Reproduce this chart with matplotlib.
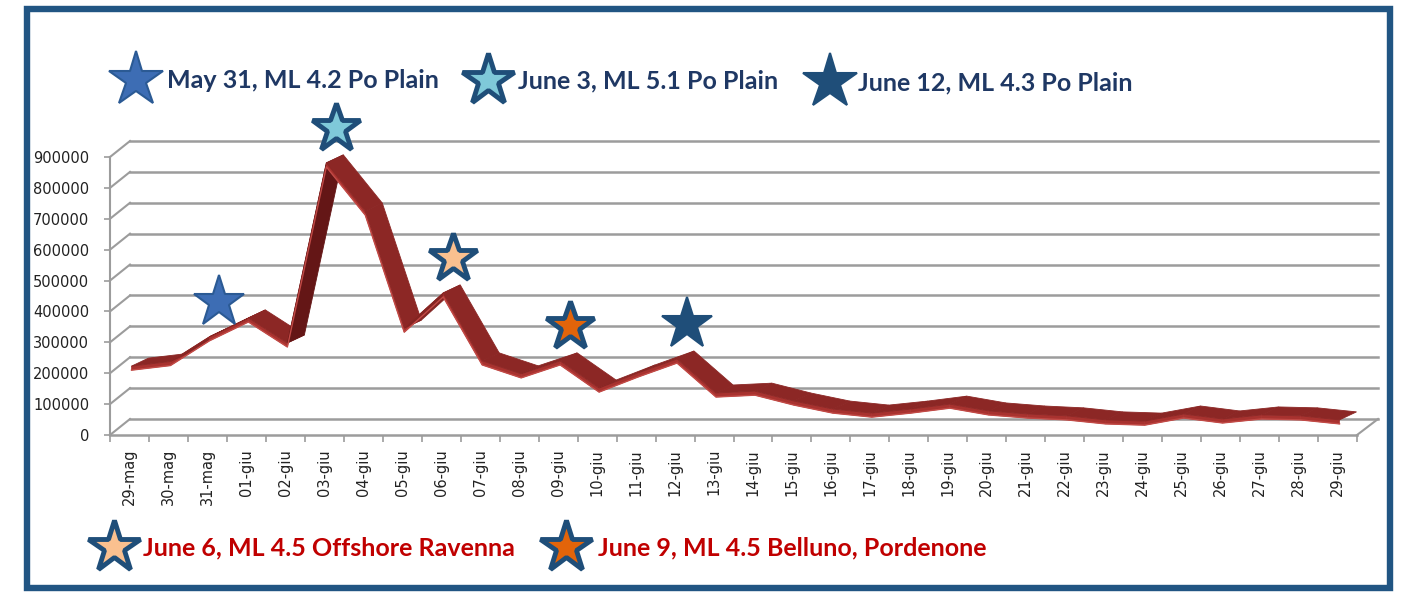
import matplotlib
matplotlib.use("Agg")
import matplotlib.pyplot as plt
import matplotlib.transforms as mtransforms
from matplotlib.patches import Polygon, Rectangle
import numpy as np

# daily values, 29 May - 29 June
days = ["29-mag", "30-mag", "31-mag"] + ["%02d-giu" % d for d in range(1, 30)]
values = [210000, 225000, 305000, 366000, 285000, 868000, 712000, 333000,
          447000, 227000, 185000, 227000, 139000, 188000, 233000, 123000,
          129000, 97000, 71000, 58000, 71000, 87000, 65000, 55000,
          49000, 36000, 32000, 55000, 39000, 52000, 49000, 36000]

# earthquakes: day index, label, star fill, star edge
quake_idx = [2, 5, 8, 11, 14]
quake_text = ["May 31, ML 4.2 Po Plain", "June 3, ML 5.1 Po Plain",
              "June 6, ML 4.5 Offshore Ravenna", "June 9, ML 4.5 Belluno, Pordenone",
              "June 12, ML 4.3 Po Plain"]
star_fill = ["#3d6db4", "#7fc9d9", "#fac08f", "#e2640a", "#1f4e79"]
star_edge = ["#2b5a94", "#1f4e79", "#1f4e79", "#1f4e79", "#1f4e79"]
star_ew = [1.5, 3.5, 3.5, 3.5, 1.5]

W, H = 1404, 592
fig = plt.figure(figsize=(W / 100, H / 100), dpi=100)
ax = fig.add_axes([110 / W, (H - 435) / H, 1247 / W, 278 / H])
n = len(days)
ax.set_xlim(-0.5, n - 0.5)
ax.set_ylim(0, 900000)
ax.patch.set_alpha(0)
for s in ax.spines.values():
    s.set_visible(False)

XPX = n / 1247.0
YPX = 900000 / 278.0
grid_c = "#9c9c9c"

# back wall grid + depth connectors
yt = list(range(0, 900001, 100000))
for v in yt:
    ax.plot([-0.5 + 20 * XPX, n - 0.5 + 21 * XPX], [v + 16 * YPX] * 2,
            color=grid_c, lw=1.8, clip_on=False, zorder=1)
    ax.plot([-0.5, -0.5 + 20 * XPX], [v, v + 16 * YPX],
            color=grid_c, lw=1.5, clip_on=False, zorder=1)
ax.plot([-0.5, -0.5], [0, 900000], color=grid_c, lw=1.5, clip_on=False)
ax.plot([-0.5, n - 0.5], [0, 0], color=grid_c, lw=1.8, clip_on=False)
ax.plot([n - 0.5, n - 0.5 + 21 * XPX], [0, 16 * YPX], color=grid_c, lw=1.5, clip_on=False)

ax.set_yticks(yt)
ax.set_yticklabels([str(v) for v in yt])
ax.set_xticks(range(n))
ax.set_xticklabels(days, rotation=90)
ax.set_xticks(np.arange(-0.5, n, 1), minor=True)
ax.tick_params(axis="y", length=4, color=grid_c, width=1.2, pad=11,
               labelsize=10.5, labelcolor="#222222")
ax.tick_params(axis="x", which="major", length=0, pad=10,
               labelsize=10.5, labelcolor="#222222")
ax.tick_params(axis="x", which="minor", length=5, color=grid_c, width=1.2)

# 3D-looking ribbon: front face + top face going back in depth
x = np.arange(n, dtype=float) + 2 * XPX
y = np.array(values, dtype=float)
t = 4 * YPX
dx, dy = 17 * XPX, 8 * YPX
base = np.array([0x8c, 0x27, 0x25]) / 255
dark = np.array([0x58, 0x11, 0x11]) / 255
for i in range(n - 1):
    rise = (y[i + 1] - y[i]) / YPX / 39.0
    k = np.clip(rise / 6.0, 0, 1)
    col = base * (1 - k) + dark * k
    front = [(x[i], y[i]), (x[i + 1], y[i + 1]),
             (x[i + 1], y[i + 1] + t), (x[i], y[i] + t)]
    top = [(x[i], y[i] + t), (x[i + 1], y[i + 1] + t),
           (x[i + 1] + dx, y[i + 1] + t + dy), (x[i] + dx, y[i] + t + dy)]
    ax.add_patch(Polygon(front, closed=True, facecolor="#a8322f", edgecolor="#a8322f",
                         lw=0.5, zorder=3, clip_on=False))
    ax.add_patch(Polygon(top, closed=True, facecolor=col, edgecolor=col,
                         lw=0.6, zorder=3, clip_on=False))
ax.plot(x, y, color="#c24a46", lw=1.0, zorder=4, clip_on=False)

# stars over the quake days
st = mtransforms.offset_copy(ax.transData, fig=fig, x=12, y=39, units="dots")
for k, i in enumerate(quake_idx):
    ax.plot(i, values[i], marker="*", ms=40 - star_ew[k], mfc=star_fill[k],
            mec=star_edge[k], mew=star_ew[k], transform=st, zorder=6, clip_on=False)

# overlay in pixel coordinates for legend and frame
ov = fig.add_axes([0, 0, 1, 1])
ov.set_xlim(0, W)
ov.set_ylim(H, 0)
ov.axis("off")
ov.patch.set_alpha(0)
ov.add_patch(Rectangle((26.5, 8.5), 1363, 579, fill=False, ec="#215583", lw=4.6))

leg_pos = [(136, 80), (488, 80), (114, 547), (566, 547), (830, 82)]
txt_x = [167, 518, 143, 598, 858]
txt_c = ["#1f3864", "#1f3864", "#c00000", "#c00000", "#1f3864"]
for k in range(5):
    sx, sy = leg_pos[k]
    ov.plot(sx, sy, marker="*", ms=43 - star_ew[k], mfc=star_fill[k],
            mec=star_edge[k], mew=star_ew[k])
    ov.text(txt_x[k], sy + 1, quake_text[k], color=txt_c[k], fontsize=18,
            fontweight="bold", family="Lato", va="center", ha="left")

fig.savefig("out.png", dpi=100)
